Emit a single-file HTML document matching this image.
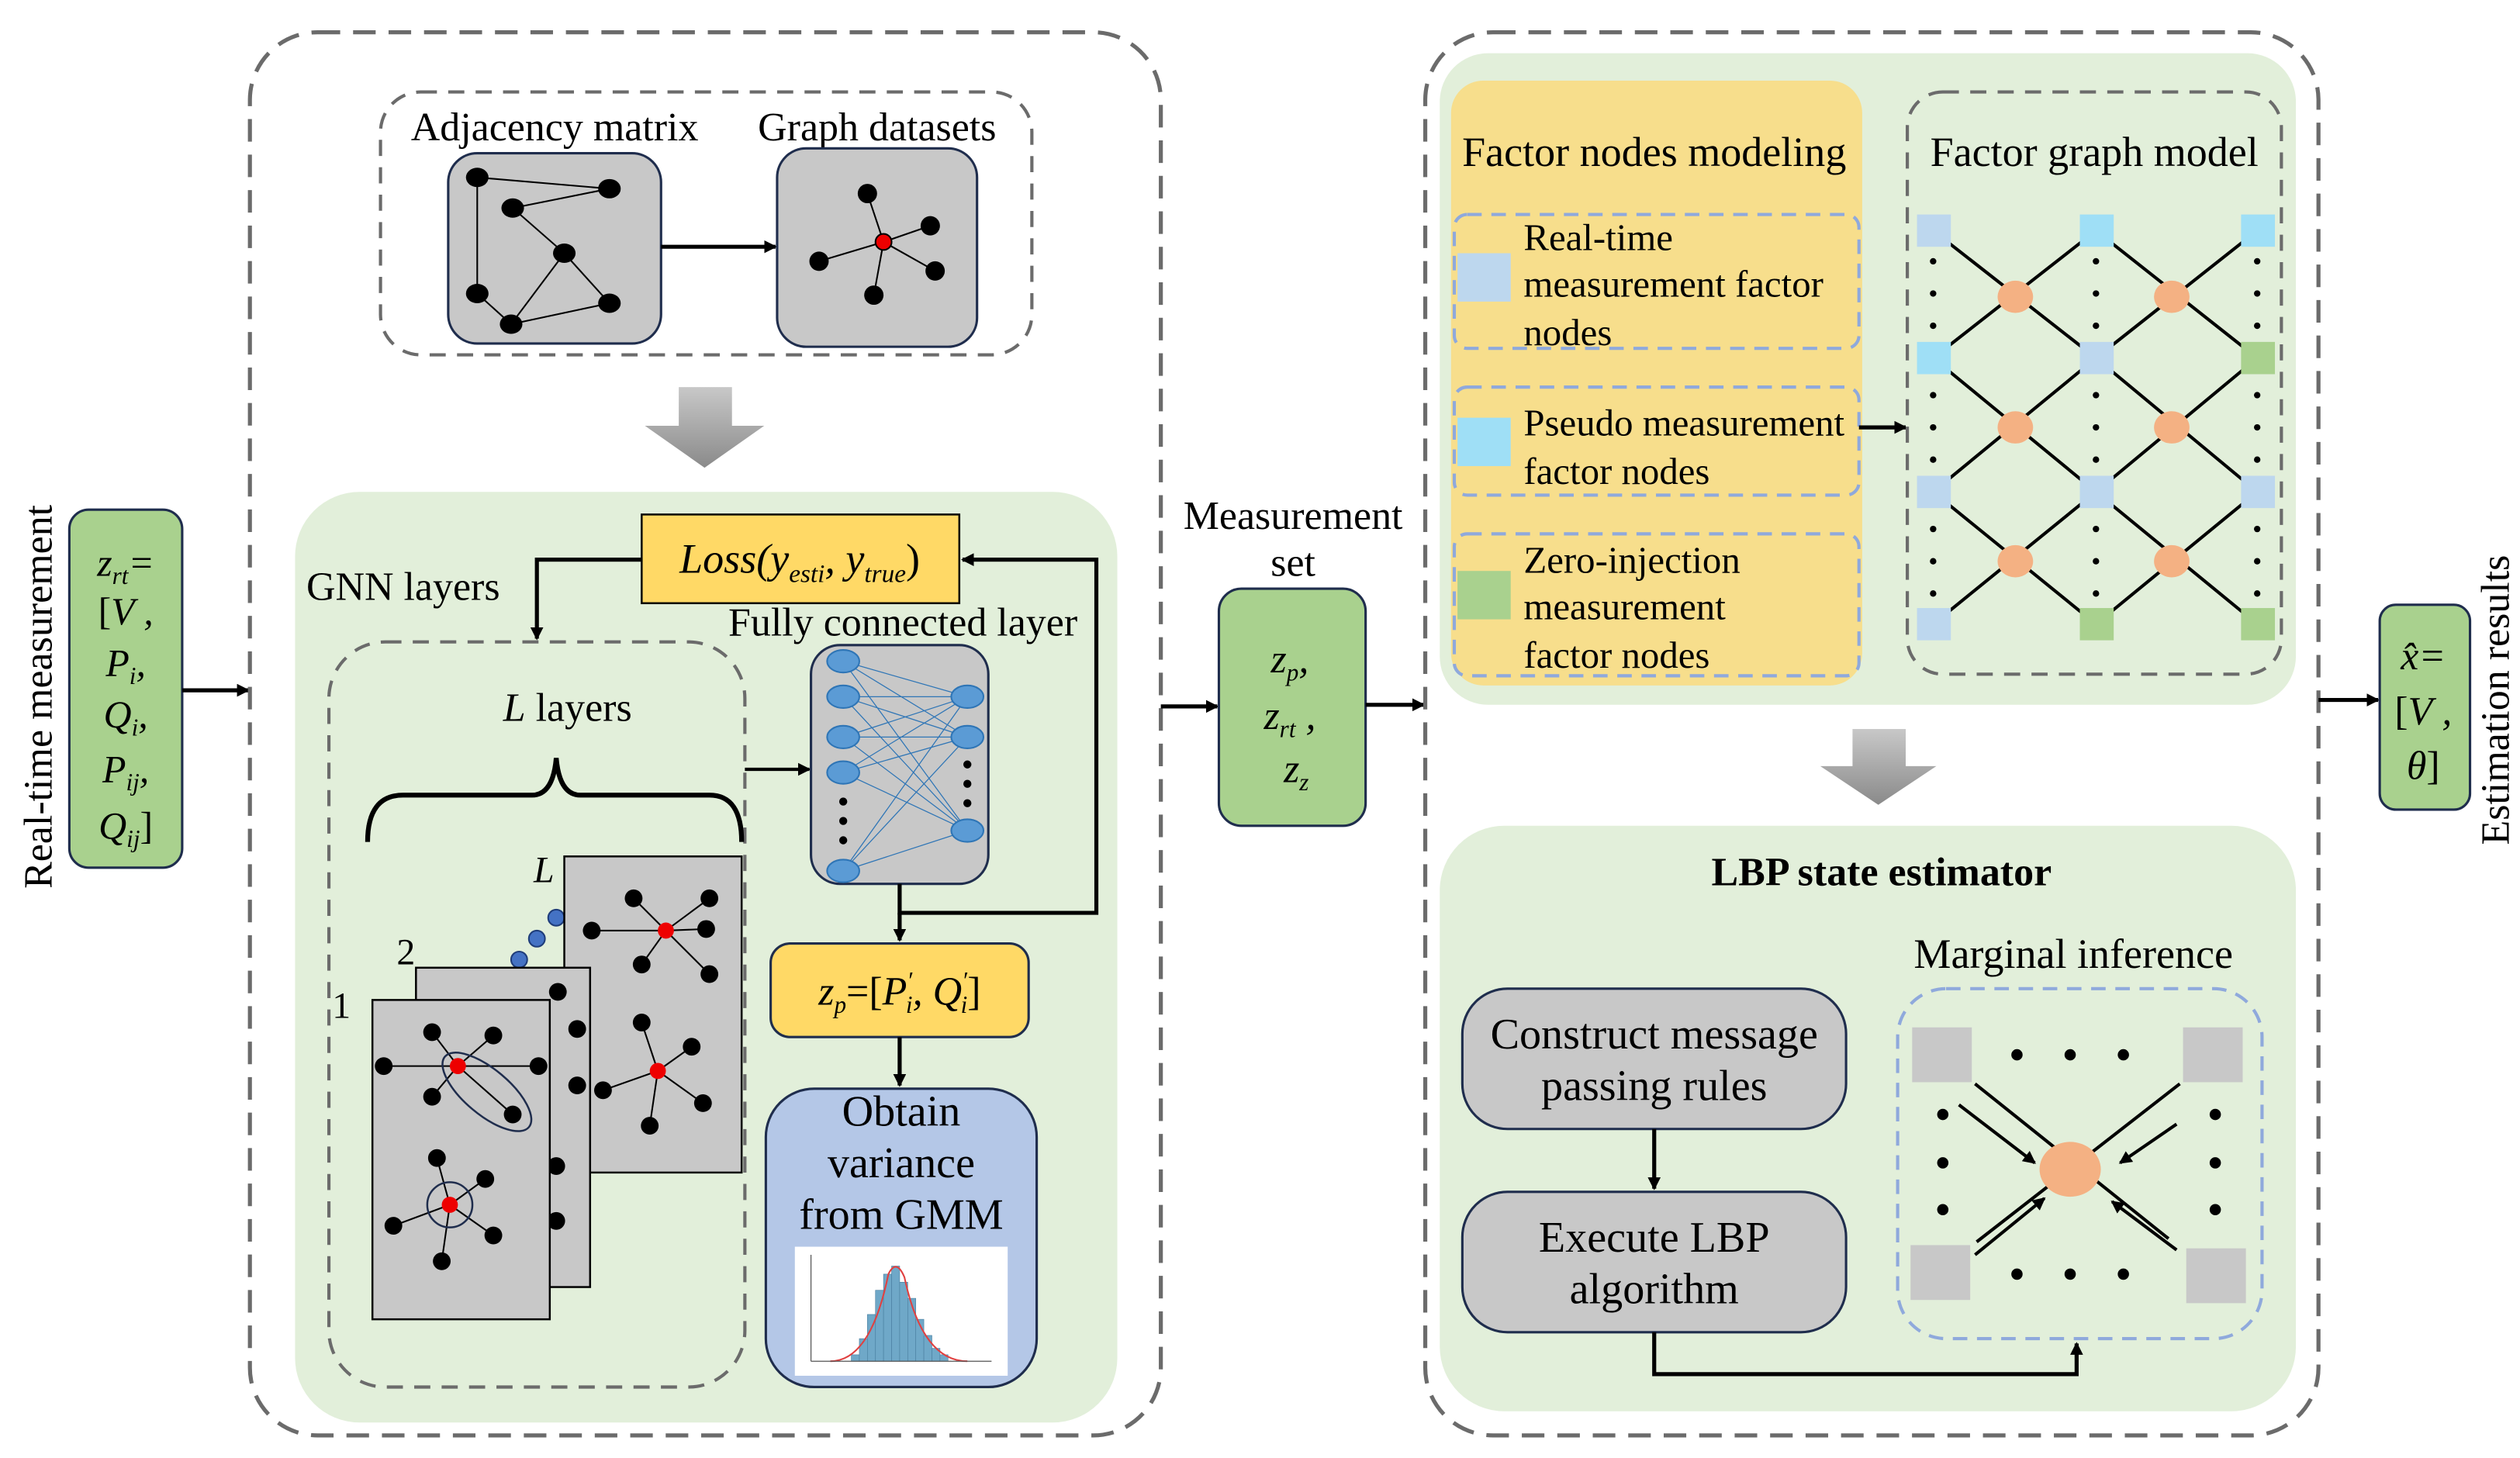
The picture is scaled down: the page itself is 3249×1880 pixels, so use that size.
<!DOCTYPE html>
<html><head><meta charset="utf-8"><style>
html,body{margin:0;padding:0;background:#fff;}
svg{display:block;font-family:"Liberation Serif","Times New Roman",Times,serif;}
svg text{font-family:"Liberation Serif","Times New Roman",Times,serif;fill:#000;}
</style></head><body>
<svg width="3249" height="1880" viewBox="0 0 1563 904" preserveAspectRatio="none" xmlns="http://www.w3.org/2000/svg">
<defs>
<marker id="ah" markerWidth="8" markerHeight="8" refX="7" refY="4" orient="auto" markerUnits="userSpaceOnUse"><path d="M0,0 L8,4 L0,8 z" fill="#000"/></marker>
<linearGradient id="gg" x1="0" y1="0" x2="0" y2="1"><stop offset="0" stop-color="#c8c8c8"/><stop offset="1" stop-color="#8a8a8a"/></linearGradient>
</defs>

<text transform="translate(32,432) rotate(-90)" font-size="25" text-anchor="middle">Real-time measurement</text>
<rect x="43" y="316" width="70" height="222" rx="12" fill="#a9d18e" stroke="#1f2d4d" stroke-width="1.5"/>
<g font-size="24" font-style="italic" text-anchor="middle">
<text x="78" y="357">z<tspan font-size="15" dy="5">rt</tspan><tspan dy="-5">=</tspan></text>
<text x="78" y="387"><tspan font-style="normal">[</tspan>V ,</text>
<text x="78" y="419">P<tspan font-size="15" dy="5">i</tspan><tspan dy="-5">,</tspan></text>
<text x="78" y="451">Q<tspan font-size="15" dy="5">i</tspan><tspan dy="-5">,</tspan></text>
<text x="78" y="485">P<tspan font-size="15" dy="5">ij</tspan><tspan dy="-5">,</tspan></text>
<text x="78" y="520">Q<tspan font-size="15" dy="5">ij</tspan><tspan dy="-5" font-style="normal">]</tspan></text>
</g>
<line x1="113" y1="428" x2="154" y2="428" stroke="#000" stroke-width="2.5" marker-end="url(#ah)"/>

<rect x="155" y="20" width="565" height="870" rx="42" fill="none" stroke="#6b6b6b" stroke-width="2.5" stroke-dasharray="14,8"/>
<rect x="236" y="57" width="404" height="163" rx="25" fill="none" stroke="#6b6b6b" stroke-width="2" stroke-dasharray="10,7"/>
<text x="344" y="87" font-size="25" text-anchor="middle">Adjacency matrix</text>
<text x="544" y="87" font-size="25" text-anchor="middle">Graph datasets</text>
<rect x="278" y="95" width="132" height="118" rx="18" fill="#c8c8c8" stroke="#1f2d4d" stroke-width="1.5"/>
<g stroke="#000" stroke-width="1">
<line x1="296" y1="110" x2="378" y2="117"/><line x1="318" y1="129" x2="378" y2="117"/>
<line x1="296" y1="110" x2="296" y2="182"/><line x1="318" y1="129" x2="350" y2="157"/>
<line x1="350" y1="157" x2="317" y2="201"/><line x1="350" y1="157" x2="378" y2="188"/>
<line x1="317" y1="201" x2="378" y2="188"/><line x1="296" y1="182" x2="317" y2="201"/>
</g>
<g fill="#000"><ellipse cx="296" cy="110" rx="7" ry="6"/><ellipse cx="378" cy="117" rx="7" ry="6"/><ellipse cx="318" cy="129" rx="7" ry="6"/><ellipse cx="350" cy="157" rx="7" ry="6"/><ellipse cx="296" cy="182" rx="7" ry="6"/><ellipse cx="378" cy="188" rx="7" ry="6"/><ellipse cx="317" cy="201" rx="7" ry="6"/></g>
<line x1="410" y1="153" x2="481" y2="153" stroke="#000" stroke-width="2.5" marker-end="url(#ah)"/>
<rect x="482" y="92" width="124" height="123" rx="18" fill="#c8c8c8" stroke="#1f2d4d" stroke-width="1.5"/>
<g stroke="#000" stroke-width="1"><line x1="548" y1="150" x2="538" y2="120"/><line x1="548" y1="150" x2="577" y2="140"/><line x1="548" y1="150" x2="508" y2="162"/><line x1="548" y1="150" x2="580" y2="168"/><line x1="548" y1="150" x2="542" y2="183"/></g>
<g fill="#000"><circle cx="538" cy="120" r="6"/><circle cx="577" cy="140" r="6"/><circle cx="508" cy="162" r="6"/><circle cx="580" cy="168" r="6"/><circle cx="542" cy="183" r="6"/></g>
<circle cx="548" cy="150" r="5" fill="#e00" stroke="#000" stroke-width="1"/>

<path d="M421,240 H454 V264 H474 L437,290 L400,264 H421 Z" fill="url(#gg)"/>

<rect x="183" y="305" width="510" height="577" rx="40" fill="#e2efda"/>
<rect x="398" y="319" width="197" height="55" fill="#ffd966" stroke="#000" stroke-width="1.2"/>
<text x="496" y="355" font-size="26" font-style="italic" text-anchor="middle">Loss(y<tspan font-size="16" dy="6">esti</tspan><tspan dy="-6">, y</tspan><tspan font-size="16" dy="6">true</tspan><tspan dy="-6" font-style="normal">)</tspan></text>
<text x="190" y="372" font-size="25">GNN layers</text>
<path d="M398,347 H333 V396" fill="none" stroke="#000" stroke-width="2.5" marker-end="url(#ah)"/>
<text x="560" y="394" font-size="25" text-anchor="middle">Fully connected layer</text>
<rect x="204" y="398" width="258" height="462" rx="35" fill="none" stroke="#6b6b6b" stroke-width="2" stroke-dasharray="10,7"/>
<text x="352" y="447" font-size="25" text-anchor="middle"><tspan font-style="italic">L</tspan> layers</text>
<path d="M228,522 Q228,493 250,493 H330 Q343,493 345,470 Q347,493 360,493 H440 Q460,493 460,522" fill="none" stroke="#000" stroke-width="3"/>
<line x1="462" y1="477" x2="502" y2="477" stroke="#000" stroke-width="2" marker-end="url(#ah)"/>

<text x="331" y="547" font-size="23" font-style="italic">L</text>
<text x="246" y="598" font-size="23">2</text>
<text x="206" y="631" font-size="23">1</text>
<g fill="#4472c4" stroke="#1f3d7a" stroke-width="1"><circle cx="345" cy="569" r="5"/><circle cx="333" cy="582" r="5"/><circle cx="322" cy="595" r="5"/></g>
<rect x="350" y="531" width="110" height="196" fill="#c8c8c8" stroke="#000" stroke-width="1.2"/>
<g stroke="#000" stroke-width="1"><line x1="367" y1="577" x2="413" y2="577"/><line x1="413" y1="577" x2="438" y2="576"/><line x1="413" y1="577" x2="393" y2="557"/><line x1="413" y1="577" x2="440" y2="557"/><line x1="413" y1="577" x2="398" y2="598"/><line x1="413" y1="577" x2="440" y2="604"/>
<line x1="408" y1="664" x2="398" y2="634"/><line x1="408" y1="664" x2="374" y2="676"/><line x1="408" y1="664" x2="429" y2="649"/><line x1="408" y1="664" x2="436" y2="684"/><line x1="408" y1="664" x2="403" y2="698"/></g>
<g fill="#000"><circle cx="367" cy="577" r="5.5"/><circle cx="393" cy="557" r="5.5"/><circle cx="440" cy="557" r="5.5"/><circle cx="438" cy="576" r="5.5"/><circle cx="398" cy="598" r="5.5"/><circle cx="440" cy="604" r="5.5"/><circle cx="398" cy="634" r="5.5"/><circle cx="429" cy="649" r="5.5"/><circle cx="374" cy="676" r="5.5"/><circle cx="436" cy="684" r="5.5"/><circle cx="403" cy="698" r="5.5"/></g>
<circle cx="413" cy="577" r="5" fill="#e00"/><circle cx="408" cy="664" r="5" fill="#e00"/>
<rect x="258" y="600" width="108" height="198" fill="#c8c8c8" stroke="#000" stroke-width="1.2"/>
<g fill="#000"><circle cx="346" cy="615" r="5.5"/><circle cx="358" cy="638" r="5.5"/><circle cx="358" cy="673" r="5.5"/><circle cx="345" cy="723" r="5.5"/><circle cx="345" cy="757" r="5.5"/></g>
<rect x="231" y="620" width="110" height="198" fill="#c8c8c8" stroke="#000" stroke-width="1.2"/>
<g stroke="#000" stroke-width="1"><line x1="238" y1="661" x2="334" y2="661"/><line x1="284" y1="661" x2="268" y2="640"/><line x1="284" y1="661" x2="306" y2="642"/><line x1="284" y1="661" x2="268" y2="680"/><line x1="284" y1="661" x2="318" y2="691"/>
<line x1="279" y1="747" x2="271" y2="718"/><line x1="279" y1="747" x2="301" y2="731"/><line x1="279" y1="747" x2="244" y2="760"/><line x1="279" y1="747" x2="306" y2="766"/><line x1="279" y1="747" x2="274" y2="782"/></g>
<g fill="#000"><circle cx="238" cy="661" r="5.5"/><circle cx="268" cy="640" r="5.5"/><circle cx="306" cy="642" r="5.5"/><circle cx="334" cy="661" r="5.5"/><circle cx="268" cy="680" r="5.5"/><circle cx="318" cy="691" r="5.5"/><circle cx="271" cy="718" r="5.5"/><circle cx="301" cy="731" r="5.5"/><circle cx="244" cy="760" r="5.5"/><circle cx="306" cy="766" r="5.5"/><circle cx="274" cy="782" r="5.5"/></g>
<circle cx="284" cy="661" r="5" fill="#e00"/><circle cx="279" cy="747" r="5" fill="#e00"/>
<ellipse cx="302" cy="677" rx="34" ry="14" transform="rotate(40 302 677)" fill="none" stroke="#1f2d4d" stroke-width="1.2"/>
<circle cx="279" cy="747" r="14" fill="none" stroke="#1f2d4d" stroke-width="1.2"/>

<rect x="503" y="400" width="110" height="148" rx="18" fill="#c8c8c8" stroke="#1f2d4d" stroke-width="1.5"/>
<g stroke="#2e75b6" stroke-width="0.6">
<path d="M523,410 L600,432 M523,410 L600,457 M523,410 L600,515 M523,432 L600,432 M523,432 L600,457 M523,432 L600,515 M523,457 L600,432 M523,457 L600,457 M523,457 L600,515 M523,479 L600,432 M523,479 L600,457 M523,479 L600,515 M523,540 L600,432 M523,540 L600,457 M523,540 L600,515"/>
</g>
<g fill="#5b9bd5" stroke="#2e75b6" stroke-width="1"><ellipse cx="523" cy="410" rx="10" ry="7"/><ellipse cx="523" cy="432" rx="10" ry="7"/><ellipse cx="523" cy="457" rx="10" ry="7"/><ellipse cx="523" cy="479" rx="10" ry="7"/><ellipse cx="523" cy="540" rx="10" ry="7"/><ellipse cx="600" cy="432" rx="10" ry="7"/><ellipse cx="600" cy="457" rx="10" ry="7"/><ellipse cx="600" cy="515" rx="10" ry="7"/></g>
<g fill="#000"><circle cx="523" cy="497" r="2.5"/><circle cx="523" cy="509" r="2.5"/><circle cx="523" cy="521" r="2.5"/><circle cx="600" cy="474" r="2.5"/><circle cx="600" cy="486" r="2.5"/><circle cx="600" cy="498" r="2.5"/></g>
<path d="M558,548 V566 H680 V347 H597" fill="none" stroke="#000" stroke-width="2.5" marker-end="url(#ah)"/>
<line x1="558" y1="566" x2="558" y2="583" stroke="#000" stroke-width="2.5" marker-end="url(#ah)"/>
<rect x="478" y="585" width="160" height="58" rx="12" fill="#ffd966" stroke="#1f2d4d" stroke-width="1.5"/>
<text x="558" y="623" font-size="25" font-style="italic" text-anchor="middle">z<tspan font-size="15" dy="5">p</tspan><tspan dy="-5" font-style="normal">=[</tspan>P<tspan font-size="15" dy="-10">′</tspan><tspan font-size="15" dx="-4" dy="15">i</tspan><tspan dy="-5">, Q</tspan><tspan font-size="15" dy="-10">′</tspan><tspan font-size="15" dx="-4" dy="15">i</tspan><tspan dy="-5" font-style="normal">]</tspan></text>
<line x1="558" y1="643" x2="558" y2="673" stroke="#000" stroke-width="2.5" marker-end="url(#ah)"/>
<rect x="475" y="675" width="168" height="185" rx="30" fill="#b4c7e7" stroke="#1f2d4d" stroke-width="1.5"/>
<g font-size="27" text-anchor="middle"><text x="559" y="698">Obtain</text><text x="559" y="730">variance</text><text x="559" y="762">from GMM</text></g>
<rect x="493" y="773" width="132" height="80" fill="#fff"/>
<g fill="#6fa8c8" stroke="#4a7fa0" stroke-width="0.3">
<rect x="528" y="840" width="5" height="4"/><rect x="533" y="830" width="5" height="14"/><rect x="538" y="815" width="5" height="29"/><rect x="543" y="800" width="5" height="44"/><rect x="548" y="790" width="5" height="54"/><rect x="553" y="785" width="5" height="59"/><rect x="558" y="795" width="5" height="49"/><rect x="563" y="805" width="5" height="39"/><rect x="568" y="818" width="5" height="26"/><rect x="573" y="828" width="5" height="16"/><rect x="578" y="836" width="5" height="8"/><rect x="583" y="840" width="5" height="4"/></g>
<path d="M515,844 Q540,844 551,790 Q556,780 561,792 Q572,844 600,844" fill="none" stroke="#e04040" stroke-width="1"/>
<line x1="503" y1="844" x2="615" y2="844" stroke="#555" stroke-width="0.6"/><line x1="503" y1="778" x2="503" y2="844" stroke="#555" stroke-width="0.6"/>

<line x1="720" y1="438" x2="755" y2="438" stroke="#000" stroke-width="2.5" marker-end="url(#ah)"/>
<text x="802" y="328" font-size="25" text-anchor="middle">Measurement</text>
<text x="802" y="357" font-size="25" text-anchor="middle">set</text>
<rect x="756" y="365" width="91" height="147" rx="14" fill="#a9d18e" stroke="#1f2d4d" stroke-width="1.5"/>
<g font-size="25" font-style="italic" text-anchor="middle"><text x="800" y="417">z<tspan font-size="15" dy="5">p</tspan><tspan dy="-5">,</tspan></text><text x="800" y="452">z<tspan font-size="15" dy="5">rt</tspan><tspan dy="-5"> ,</tspan></text><text x="804" y="485">z<tspan font-size="15" dy="5">z</tspan></text></g>
<line x1="847" y1="437" x2="883" y2="437" stroke="#000" stroke-width="2.5" marker-end="url(#ah)"/>

<rect x="884" y="20" width="554" height="870" rx="42" fill="none" stroke="#6b6b6b" stroke-width="2.5" stroke-dasharray="14,8"/>
<rect x="893" y="33" width="531" height="404" rx="30" fill="#e2efda"/>
<rect x="900" y="50" width="255" height="375" rx="20" fill="#f7de8c"/>
<text x="1026" y="103" font-size="26" text-anchor="middle">Factor nodes modeling</text>
<g fill="none" stroke="#8fa9dc" stroke-width="2" stroke-dasharray="9,6">
<rect x="902" y="133" width="251" height="83" rx="8"/><rect x="902" y="240" width="251" height="67" rx="8"/><rect x="902" y="331" width="251" height="88" rx="8"/></g>
<rect x="904" y="157" width="33" height="30" fill="#bdd7ee"/><rect x="904" y="259" width="33" height="30" fill="#9fdff6"/><rect x="904" y="354" width="33" height="30" fill="#a9d18e"/>
<g font-size="23.5"><text x="945" y="155">Real-time</text><text x="945" y="184">measurement factor</text><text x="945" y="214">nodes</text>
<text x="945" y="270">Pseudo measurement</text><text x="945" y="300">factor nodes</text>
<text x="945" y="355">Zero-injection</text><text x="945" y="384">measurement</text><text x="945" y="414">factor nodes</text></g>
<line x1="1153" y1="265" x2="1182" y2="265" stroke="#000" stroke-width="2.5" marker-end="url(#ah)"/>
<rect x="1183" y="57" width="232" height="361" rx="22" fill="none" stroke="#6b6b6b" stroke-width="2" stroke-dasharray="10,7"/>
<text x="1299" y="103" font-size="26" text-anchor="middle">Factor graph model</text>
<g stroke="#000" stroke-width="2">
<path d="M1199,143 L1300,222 M1300,143 L1199,222 M1300,143 L1400,222 M1400,143 L1300,222 M1199,222 L1300,305 M1300,222 L1199,305 M1300,222 L1400,305 M1400,222 L1300,305 M1199,305 L1300,387 M1300,305 L1199,387 M1300,305 L1400,387 M1400,305 L1300,387"/></g>
<g fill="#000">
<circle cx="1199" cy="162" r="2"/><circle cx="1199" cy="182" r="2"/><circle cx="1199" cy="202" r="2"/><circle cx="1300" cy="162" r="2"/><circle cx="1300" cy="182" r="2"/><circle cx="1300" cy="202" r="2"/><circle cx="1400" cy="162" r="2"/><circle cx="1400" cy="182" r="2"/><circle cx="1400" cy="202" r="2"/>
<circle cx="1199" cy="245" r="2"/><circle cx="1199" cy="265" r="2"/><circle cx="1199" cy="285" r="2"/><circle cx="1300" cy="245" r="2"/><circle cx="1300" cy="265" r="2"/><circle cx="1300" cy="285" r="2"/><circle cx="1400" cy="245" r="2"/><circle cx="1400" cy="265" r="2"/><circle cx="1400" cy="285" r="2"/>
<circle cx="1199" cy="328" r="2"/><circle cx="1199" cy="348" r="2"/><circle cx="1199" cy="368" r="2"/><circle cx="1300" cy="328" r="2"/><circle cx="1300" cy="348" r="2"/><circle cx="1300" cy="368" r="2"/><circle cx="1400" cy="328" r="2"/><circle cx="1400" cy="348" r="2"/><circle cx="1400" cy="368" r="2"/></g>
<g>
<rect x="1189" y="133" width="21" height="20" fill="#bdd7ee"/><rect x="1290" y="133" width="21" height="20" fill="#9fdff6"/><rect x="1390" y="133" width="21" height="20" fill="#9fdff6"/>
<rect x="1189" y="212" width="21" height="20" fill="#9fdff6"/><rect x="1290" y="212" width="21" height="20" fill="#bdd7ee"/><rect x="1390" y="212" width="21" height="20" fill="#a9d18e"/>
<rect x="1189" y="295" width="21" height="20" fill="#bdd7ee"/><rect x="1290" y="295" width="21" height="20" fill="#bdd7ee"/><rect x="1390" y="295" width="21" height="20" fill="#bdd7ee"/>
<rect x="1189" y="377" width="21" height="20" fill="#bdd7ee"/><rect x="1290" y="377" width="21" height="20" fill="#a9d18e"/><rect x="1390" y="377" width="21" height="20" fill="#a9d18e"/></g>
<g fill="#f4b183"><ellipse cx="1250" cy="184" rx="11" ry="10"/><ellipse cx="1347" cy="184" rx="11" ry="10"/><ellipse cx="1250" cy="265" rx="11" ry="10"/><ellipse cx="1347" cy="265" rx="11" ry="10"/><ellipse cx="1250" cy="348" rx="11" ry="10"/><ellipse cx="1347" cy="348" rx="11" ry="10"/></g>

<path d="M1149,452 H1182 V475 H1201 L1165,499 L1129,475 H1149 Z" fill="url(#gg)"/>

<rect x="893" y="512" width="531" height="363" rx="40" fill="#e2efda"/>
<text x="1167" y="549" font-size="25" font-weight="bold" text-anchor="middle">LBP state estimator</text>
<text x="1286" y="600" font-size="26" text-anchor="middle">Marginal inference</text>
<rect x="907" y="613" width="238" height="87" rx="28" fill="#c8c8c8" stroke="#1f2d4d" stroke-width="1.5"/>
<text x="1026" y="650" font-size="27" text-anchor="middle">Construct message</text><text x="1026" y="682" font-size="27" text-anchor="middle">passing rules</text>
<line x1="1026" y1="700" x2="1026" y2="737" stroke="#000" stroke-width="2.5" marker-end="url(#ah)"/>
<rect x="907" y="739" width="238" height="87" rx="28" fill="#c8c8c8" stroke="#1f2d4d" stroke-width="1.5"/>
<text x="1026" y="776" font-size="27" text-anchor="middle">Execute LBP</text><text x="1026" y="808" font-size="27" text-anchor="middle">algorithm</text>
<path d="M1026,826 V852 H1288 V833" fill="none" stroke="#000" stroke-width="2.5" marker-end="url(#ah)"/>
<rect x="1177" y="613" width="226" height="217" rx="30" fill="none" stroke="#8fa9dc" stroke-width="2" stroke-dasharray="9,6"/>
<g fill="#c8c8c8"><rect x="1186" y="637" width="37" height="34"/><rect x="1354" y="637" width="37" height="34"/><rect x="1185" y="772" width="37" height="34"/><rect x="1356" y="774" width="37" height="34"/></g>
<g stroke="#000" stroke-width="2"><line x1="1225" y1="672" x2="1345" y2="768"/><line x1="1352" y1="672" x2="1226" y2="770"/></g>
<g stroke="#000" stroke-width="2" marker-end="url(#ah)"><line x1="1215" y1="685" x2="1262" y2="721"/><line x1="1350" y1="697" x2="1315" y2="721"/><line x1="1225" y1="778" x2="1268" y2="743"/><line x1="1350" y1="775" x2="1310" y2="745"/></g>
<ellipse cx="1284" cy="725" rx="19" ry="17" fill="#f4b183"/>
<g fill="#000"><circle cx="1251" cy="654" r="3.5"/><circle cx="1284" cy="654" r="3.5"/><circle cx="1317" cy="654" r="3.5"/><circle cx="1251" cy="790" r="3.5"/><circle cx="1284" cy="790" r="3.5"/><circle cx="1317" cy="790" r="3.5"/><circle cx="1205" cy="691" r="3.5"/><circle cx="1205" cy="721" r="3.5"/><circle cx="1205" cy="750" r="3.5"/><circle cx="1374" cy="691" r="3.5"/><circle cx="1374" cy="721" r="3.5"/><circle cx="1374" cy="750" r="3.5"/></g>

<line x1="1438" y1="434" x2="1475" y2="434" stroke="#000" stroke-width="2.5" marker-end="url(#ah)"/>
<rect x="1476" y="375" width="56" height="127" rx="10" fill="#a9d18e" stroke="#1f2d4d" stroke-width="1.5"/>
<g font-size="25" text-anchor="middle" font-style="italic"><text x="1503" y="415">x̂=</text><text x="1503" y="449"><tspan font-style="normal">[</tspan>V ,</text><text x="1503" y="483">θ<tspan font-style="normal">]</tspan></text></g>
<text transform="translate(1556,434) rotate(-90)" font-size="25" text-anchor="middle">Estimation results</text>
</svg>
</body></html>
